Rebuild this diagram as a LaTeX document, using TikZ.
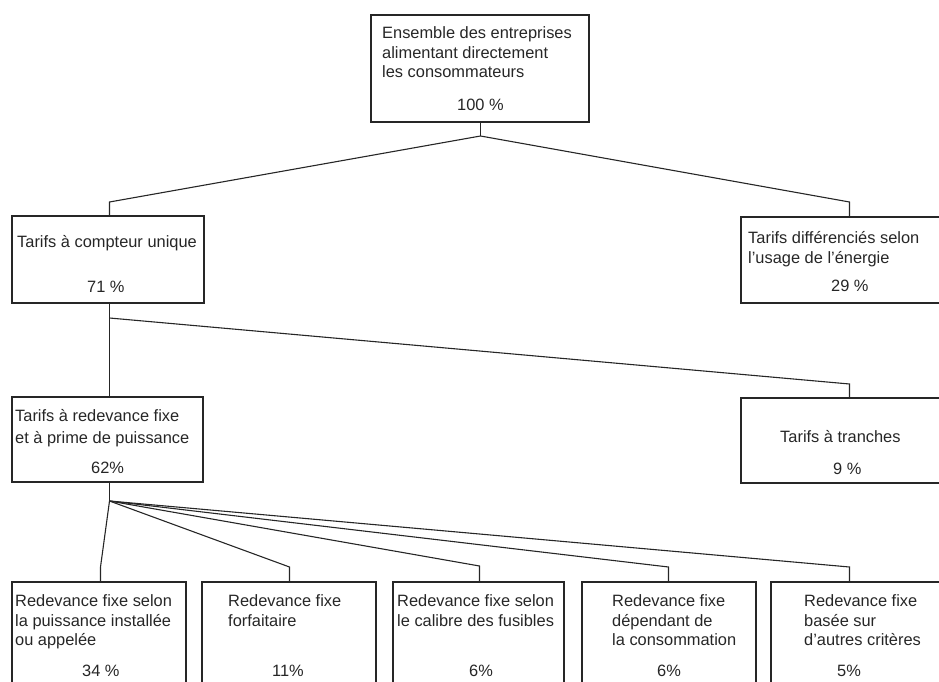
\documentclass[tikz,border=0pt]{standalone}
\usepackage{fontspec}
\setmainfont{Liberation Sans}
\begin{document}
\begin{tikzpicture}[x=1pt,y=-1pt,
  box/.style={draw=black!85, line width=1.1pt, rectangle, inner sep=0pt},
  link/.style={draw=black!85, line width=1.1pt},
  txt/.style={anchor=base west, inner sep=0pt, font=\fontsize{16.4}{19}\selectfont, text=black!85}]
\useasboundingbox (0,0) rectangle (939,682);
\clip (0,0) rectangle (939,682);
% boxes
\node[box, minimum width=218, minimum height=107] (top) at (480,68.5) {};
\node[box, minimum width=192, minimum height=87] (l1) at (108,259.5) {};
\node[box, minimum width=205, minimum height=86] (r1) at (843.5,260) {};
\node[box, minimum width=191, minimum height=85] (l2) at (107.5,439.5) {};
\node[box, minimum width=205, minimum height=85] (r2) at (843.5,440.5) {};
\node[box, minimum width=174, minimum height=110] (b1) at (99,637) {};
\node[box, minimum width=174, minimum height=110] (b2) at (289,637) {};
\node[box, minimum width=171, minimum height=110] (b3) at (478.5,637) {};
\node[box, minimum width=174, minimum height=110] (b4) at (669,637) {};
\node[box, minimum width=175, minimum height=110] (b5) at (858.5,637) {};
% junctions
\coordinate (j0) at (480.5,136);
\coordinate (k1) at (109.5,202);
\coordinate (k2) at (849.5,202);
\coordinate (j1) at (109.5,318);
\coordinate (k3) at (849.5,384);
\coordinate (j2) at (109.5,501);
\coordinate (m1) at (100.5,567);
\coordinate (m2) at (289.5,567);
\coordinate (m3) at (479.5,566);
\coordinate (m4) at (668.5,567);
\coordinate (m5) at (849.5,567);
% connectors
\draw[link] (top.south -| j0) -- (j0);
\draw[link] (j0) -- (k1) -- (k1 |- l1.north);
\draw[link] (j0) -- (k2) -- (k2 |- r1.north);
\draw[link] (l1.south -| j1) -- (j1) -- (j1 |- l2.north);
\draw[link] (j1) -- (k3) -- (k3 |- r2.north);
\draw[link] (l2.south -| j2) -- (j2);
\draw[link] (j2) -- (m1) -- (m1 |- b1.north);
\draw[link] (j2) -- (m2) -- (m2 |- b2.north);
\draw[link] (j2) -- (m3) -- (m3 |- b3.north);
\draw[link] (j2) -- (m4) -- (m4 |- b4.north);
\draw[link] (j2) -- (m5) -- (m5 |- b5.north);
% texts
\node[txt] (ta) at (382,39) {Ensemble des entreprises};
\node[txt] (tb) at (382,58.5) {alimentant directement};
\node[txt] (tc) at (382,78) {les consommateurs};
\node[txt] (td) at (457,111) {100 \%};
\node[txt] (l1a) at (17,247) {Tarifs à compteur unique};
\node[txt] (l1b) at (87,292) {71 \%};
\node[txt] (r1a) at (748,243) {Tarifs différenciés selon};
\node[txt] (r1b) at (748,263) {l'usage de l'énergie};
\node[txt] (r1c) at (831,291) {29 \%};
\node[txt] (l2a) at (15,421) {Tarifs à redevance fixe};
\node[txt] (l2b) at (15,443) {et à prime de puissance};
\node[txt] (l2c) at (91,473) {62\%};
\node[txt] (r2a) at (780,442) {Tarifs à tranches};
\node[txt] (r2b) at (833,474) {9 \%};
\node[txt] (b1a) at (15,606.5) {Redevance fixe selon};
\node[txt] (b1b) at (15,626) {la puissance installée};
\node[txt] (b1c) at (15,645) {ou appelée};
\node[txt] (b1d) at (82,676) {34 \%};
\node[txt] (b2a) at (228,606.5) {Redevance fixe};
\node[txt] (b2b) at (228,626) {forfaitaire};
\node[txt] (b2c) at (272,676) {11\%};
\node[txt] (b3a) at (397,606.5) {Redevance fixe selon};
\node[txt] (b3b) at (397,626) {le calibre des fusibles};
\node[txt] (b3c) at (469,676) {6\%};
\node[txt] (b4a) at (612,606.5) {Redevance fixe};
\node[txt] (b4b) at (612,626) {dépendant de};
\node[txt] (b4c) at (612,645) {la consommation};
\node[txt] (b4d) at (657,676) {6\%};
\node[txt] (b5a) at (804,606.5) {Redevance fixe};
\node[txt] (b5b) at (804,626) {basée sur};
\node[txt] (b5c) at (804,645) {d'autres critères};
\node[txt] (b5d) at (837,676) {5\%};
\end{tikzpicture}
\end{document}
